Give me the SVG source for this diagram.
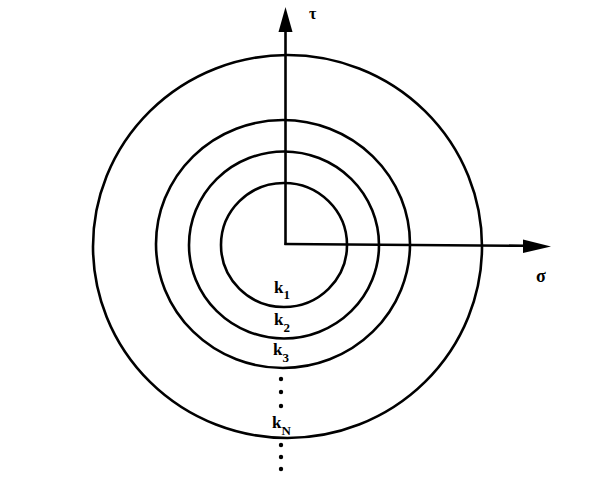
<svg xmlns="http://www.w3.org/2000/svg" width="600" height="487" viewBox="0 0 600 487">
<style>
.c{fill:none;stroke:#000;stroke-width:2.6}
.ax{fill:none;stroke:#000;stroke-width:2.6}
.lb{font-family:"Liberation Serif","DejaVu Serif",serif;fill:#000;font-weight:bold}
.k{font-size:17px}
.s{font-size:13px}
.dot{fill:#000}
</style>
<rect width="600" height="487" fill="#fff"/>
<g id="circle-k1"><ellipse class="c" cx="284" cy="245" rx="63" ry="62"/></g>
<g id="circle-k2"><ellipse class="c" cx="284" cy="245" rx="95" ry="93.5"/></g>
<g id="circle-k3"><ellipse class="c" cx="283" cy="244" rx="127" ry="124"/></g>
<g id="circle-kN"><ellipse class="c" cx="287.5" cy="246.5" rx="194.5" ry="191.5"/></g>
<g id="axes">
<path class="ax" d="M285.5,245 L285.5,30"/>
<polygon points="285.5,7 278.5,32 292.5,32" fill="#000"/>
<path class="ax" d="M284.5,244 L525,245.8"/>
<polygon points="551,246.5 523,239.5 523,253" fill="#000"/>
<text class="lb" x="309" y="19" font-size="16">τ</text>
<text class="lb" x="536" y="282" font-size="18">σ</text>
</g>
<g id="labels">
<text class="lb k" x="274" y="293">k<tspan class="s" dy="6">1</tspan></text>
<text class="lb k" x="274" y="325">k<tspan class="s" dy="7">2</tspan></text>
<text class="lb k" x="273" y="355">k<tspan class="s" dy="7">3</tspan></text>
<text class="lb k" x="272" y="428">k<tspan class="s" dy="7">N</tspan></text>
</g>
<g id="dots">
<circle class="dot" cx="281" cy="379" r="2.2"/>
<circle class="dot" cx="281" cy="392" r="2.2"/>
<circle class="dot" cx="281" cy="406" r="2.2"/>
<circle class="dot" cx="281" cy="445" r="2.2"/>
<circle class="dot" cx="281" cy="457" r="2.2"/>
<circle class="dot" cx="281" cy="469" r="2.2"/>
</g>
</svg>
